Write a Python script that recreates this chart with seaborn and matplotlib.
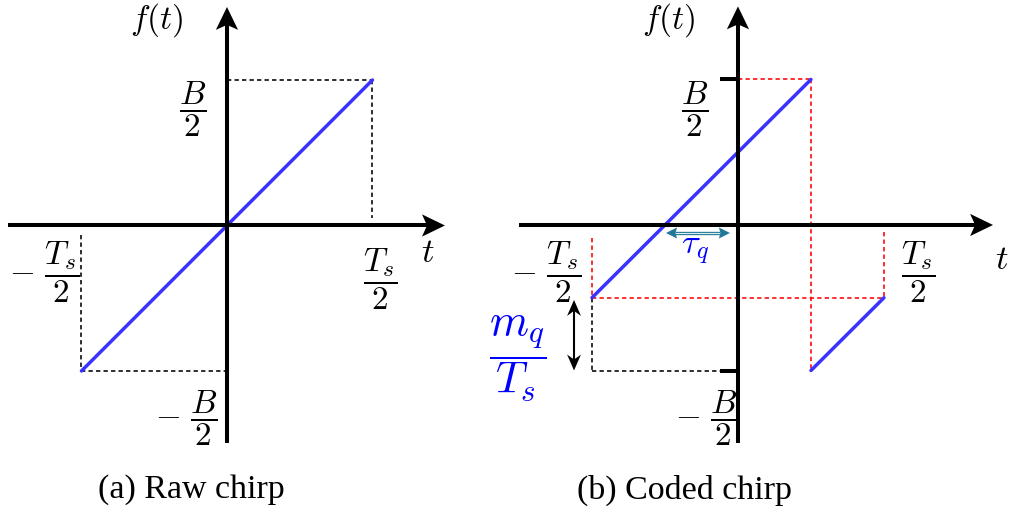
import numpy as np
import pandas as pd
import matplotlib
matplotlib.use("Agg")
import matplotlib.pyplot as plt
import seaborn as sns
from matplotlib.patches import Polygon
from matplotlib.transforms import Affine2D, ScaledTranslation

# t in units of Ts/2, f in units of B/2
raw_t = [-1.0, 1.0]
raw_f = [-1.0, 1.0]
coded_t = [-1.0, 0.5, 0.5, 1.0]
coded_f = [-0.5, 1.0, -1.0, -0.5]
coded_seg = [0, 0, 1, 1]
jump_t = 0.5       # coded chirp wraps here
tau_t = -0.5       # zero crossing of the coded chirp (tau_q)
shift_f = -0.5     # start frequency of the coded chirp (m_q / Ts above -B/2)

captions = ["(a) Raw chirp", "(b) Coded chirp"]

BLUE = "#3a32ff"
LABEL_BLUE = "#0000ff"
RED = "#ff0000"
TEAL = "#1f7896"
DASH = (0, (2.7, 2.0))

sns.set_theme(style="white")
plt.rcParams["font.family"] = ["Liberation Serif", "DejaVu Serif"]
plt.rcParams["mathtext.fontset"] = "cm"

fig = plt.figure(figsize=(10.12, 5.13), dpi=100)
ax_a = fig.add_axes([0, 53 / 513, 480 / 1012, 460 / 513])
ax_b = fig.add_axes([480 / 1012, 53 / 513, 532 / 1012, 460 / 513])

raw_df = pd.DataFrame({"t": raw_t, "f": raw_f, "seg": [0, 0]})
coded_df = pd.DataFrame({"t": coded_t, "f": coded_f, "seg": coded_seg})
for ax, df in [(ax_a, raw_df), (ax_b, coded_df)]:
    sns.lineplot(data=df, x="t", y="f", units="seg", estimator=None, sort=False,
                 color=BLUE, lw=2.5, legend=False, ax=ax, zorder=4)

ax_a.set_xlim(-1.560, 1.739)
ax_a.set_ylim(-1.612, 1.550)
ax_b.set_xlim(-1.767, 1.877)
ax_b.set_ylim(-1.615, 1.546)
for ax in (ax_a, ax_b):
    ax.set_axis_off()

PT = fig.dpi / 72


def head(ax, p, angle, length, half, notch, color):
    verts = [(0, 0), (-length, half), (-length + notch, 0), (-length, -half)]
    tr = Affine2D().rotate_deg(angle).scale(PT) + ScaledTranslation(p[0], p[1], ax.transData)
    ax.add_patch(Polygon(verts, closed=True, transform=tr, facecolor=color,
                         edgecolor="none", clip_on=False, zorder=6))


def arrow(ax, p0, p1, lw, length, half, notch, color="black", both=False, inner=None):
    d0 = ax.transData.transform(p0)
    d1 = ax.transData.transform(p1)
    u = (d1 - d0) / np.hypot(*(d1 - d0))
    back = (length - notch) * PT
    s0 = d0 + u * back if both else d0
    s1 = d1 - u * back
    q0, q1 = ax.transData.inverted().transform([s0, s1])
    ax.plot([q0[0], q1[0]], [q0[1], q1[1]], color=color, lw=lw,
            solid_capstyle="butt", zorder=5)
    if inner:
        ax.plot([q0[0], q1[0]], [q0[1], q1[1]], color=inner, lw=lw * 0.35,
                solid_capstyle="butt", zorder=5)
    ang = np.degrees(np.arctan2(u[1], u[0]))
    head(ax, p1, ang, length, half, notch, color)
    if both:
        head(ax, p0, ang + 180, length, half, notch, color)


def dashed(ax, xs, ys, color):
    ax.plot(xs, ys, color=color, lw=1.15, linestyle=DASH, zorder=2)


def label(ax, x, y, s, size=24, color="black"):
    ax.text(x, y, s, ha="center", va="center", fontsize=size, color=color, zorder=7)


# ---- (a) raw chirp ----
arrow(ax_a, (-1.505, 0), (1.498, 0), 2.9, 16.5, 8.0, 3.6)
arrow(ax_a, (0, -1.495), (0, 1.502), 2.9, 16.5, 8.0, 3.6)
dashed(ax_a, [0, raw_t[1]], [raw_f[1], raw_f[1]], "black")
dashed(ax_a, [raw_t[1], raw_t[1]], [raw_f[1], 0.05], "black")
dashed(ax_a, [raw_t[0], raw_t[0]], [-0.065, raw_f[0]], "black")
dashed(ax_a, [raw_t[0], 0], [raw_f[0], raw_f[0]], "black")

label(ax_a, -0.481, 1.412, r"$f(t)$")
label(ax_a, -0.234, 0.80, r"$\dfrac{B}{2}$")
label(ax_a, -1.258, -0.32, r"$-\ \dfrac{T_s}{2}$")
label(ax_a, 1.052, -0.368, r"$\dfrac{T_s}{2}$")
label(ax_a, 1.381, -0.19, r"$t$", size=25)
label(ax_a, -0.278, -1.323, r"$-\ \dfrac{B}{2}$")

# ---- (b) coded chirp ----
dashed(ax_b, [0, jump_t], [1, 1], RED)
dashed(ax_b, [jump_t, jump_t], [1, -1], RED)
dashed(ax_b, [-1, -1], [-0.09, shift_f], RED)
dashed(ax_b, [1, 1], [-0.05, shift_f], RED)
dashed(ax_b, [-1, 1], [shift_f, shift_f], RED)
dashed(ax_b, [-1, -1], [shift_f, -1], "black")
dashed(ax_b, [-1, -0.123], [-1, -1], "black")

arrow(ax_b, (-1.5, 0), (1.747, 0), 2.9, 16.5, 8.0, 3.6)
arrow(ax_b, (0, -1.495), (0, 1.502), 2.9, 16.5, 8.0, 3.6)
for fv in (1, -1):
    ax_b.plot([-0.123, 0], [fv, fv], color="black", lw=2.9, solid_capstyle="butt", zorder=5)

# tau_q and m_q/Ts markers
arrow(ax_b, (tau_t + 0.007, -0.055), (-0.055, -0.055), 2.4, 8.0, 4.0, 1.2,
      color=TEAL, both=True, inner="#d8ecf2")
arrow(ax_b, (-1.123, shift_f - 0.015), (-1.123, -1.0), 1.5, 11.5, 5.0, 3.6, both=True)

label(ax_b, -0.479, 1.409, r"$f(t)$")
label(ax_b, -0.295, 0.797, r"$\dfrac{B}{2}$")
label(ax_b, -1.312, -0.323, r"$-\ \dfrac{T_s}{2}$")
label(ax_b, 1.233, -0.326, r"$\dfrac{T_s}{2}$")
label(ax_b, 1.808, -0.247, r"$t$", size=25)
label(ax_b, -0.216, -1.326, r"$-\ \dfrac{B}{2}$")
label(ax_b, -0.295, -0.172, r"$\tau_q$", size=25, color=LABEL_BLUE)
label(ax_b, -1.507, -0.914, r"$\dfrac{m_q}{T_s}$", size=32, color=LABEL_BLUE)

for xc, cap in zip([191, 685], captions):
    fig.text(xc / 1012, 1 - 490 / 513, cap, ha="center", va="center",
             fontsize=24.5, color="black")

fig.savefig("out.png", dpi=100)
